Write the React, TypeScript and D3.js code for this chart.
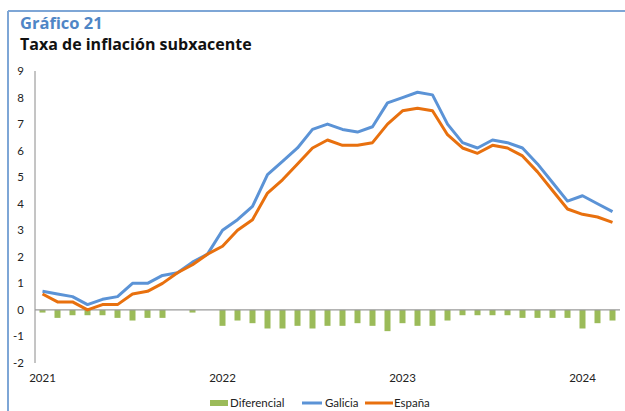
import React from 'react';
import * as d3 from 'd3';

// monthly categories, Jan 2021 .. Mar 2024
const months = [
  '2021-01', '2021-02', '2021-03', '2021-04', '2021-05', '2021-06',
  '2021-07', '2021-08', '2021-09', '2021-10', '2021-11', '2021-12',
  '2022-01', '2022-02', '2022-03', '2022-04', '2022-05', '2022-06',
  '2022-07', '2022-08', '2022-09', '2022-10', '2022-11', '2022-12',
  '2023-01', '2023-02', '2023-03', '2023-04', '2023-05', '2023-06',
  '2023-07', '2023-08', '2023-09', '2023-10', '2023-11', '2023-12',
  '2024-01', '2024-02', '2024-03',
];

const galicia = [
  0.7, 0.6, 0.5, 0.2, 0.4, 0.5, 1.0, 1.0, 1.3, 1.4, 1.8, 2.1,
  3.0, 3.4, 3.9, 5.1, 5.6, 6.1, 6.8, 7.0, 6.8, 6.7, 6.9, 7.8,
  8.0, 8.2, 8.1, 7.0, 6.3, 6.1, 6.4, 6.3, 6.1, 5.5, 4.8, 4.1,
  4.3, 4.0, 3.7,
];

const espana = [
  0.6, 0.3, 0.3, 0.0, 0.2, 0.2, 0.6, 0.7, 1.0, 1.4, 1.7, 2.1,
  2.4, 3.0, 3.4, 4.4, 4.9, 5.5, 6.1, 6.4, 6.2, 6.2, 6.3, 7.0,
  7.5, 7.6, 7.5, 6.6, 6.1, 5.9, 6.2, 6.1, 5.8, 5.2, 4.5, 3.8,
  3.6, 3.5, 3.3,
];

const diferencial = [
  -0.1, -0.3, -0.2, -0.2, -0.2, -0.3, -0.4, -0.3, -0.3, 0.0, -0.1, 0.0,
  -0.6, -0.4, -0.5, -0.7, -0.7, -0.6, -0.7, -0.6, -0.6, -0.5, -0.6, -0.8,
  -0.5, -0.6, -0.6, -0.4, -0.2, -0.2, -0.2, -0.2, -0.3, -0.3, -0.3, -0.3,
  -0.7, -0.5, -0.4,
];

const yearTicks = ['2021', '2022', '2023', '2024'];
const yTicks = [-2, -1, 0, 1, 2, 3, 4, 5, 6, 7, 8, 9];

const W = 625;
const H = 411;
const BLUE = '#5b93d6';
const ORANGE = '#e8700e';
const GREEN = '#9bbb59';
const FONT = 'Lato, "Open Sans", sans-serif';
const TITLE_FONT = '"Open Sans", Lato, sans-serif';

export default function App() {
  const x = d3.scaleBand<string>().domain(months).range([35, 620]);
  const y = d3.scaleLinear().domain([-2, 9]).range([363, 71]);
  const cx = (m: string) => (x(m) ?? 0) + x.bandwidth() / 2;
  const barW = 6;

  const line = d3
    .line<number>()
    .x((_, i) => cx(months[i]))
    .y((d) => y(d));

  return (
    <svg
      width={W}
      height={H}
      style={{ position: 'absolute', left: 0, top: 0, background: '#fff' }}
      fontFamily={FONT}
    >
      {/* frame */}
      <line x1={8} x2={W} y1={11} y2={11} stroke="#7ea6d6" strokeWidth={2} />
      <line x1={8} x2={8} y1={11} y2={H} stroke="#7ea6d6" strokeWidth={2} />

      <text x={20} y={29} fontSize={16.5} fontWeight={700} fill="#4f86c6" fontFamily={TITLE_FONT}>
        Gráfico 21
      </text>
      <text x={20} y={50} fontSize={16} fontWeight={700} fill="#111" fontFamily={TITLE_FONT}>
        Taxa de inflación subxacente
      </text>

      {/* y axis labels */}
      {yTicks.map((t) => (
        <text
          key={t}
          x={24}
          y={y(t)}
          dy="0.35em"
          textAnchor="end"
          fontSize={11.5}
          fill="#222"
        >
          {t}
        </text>
      ))}

      {/* bars */}
      {diferencial.map((d, i) => (
        <rect
          key={months[i]}
          x={cx(months[i]) - barW / 2}
          y={y(Math.max(0, d))}
          width={barW}
          height={Math.abs(y(d) - y(0))}
          fill={GREEN}
        />
      ))}

      {/* axes */}
      <line x1={35} x2={35} y1={y(9)} y2={y(-2)} stroke="#8a8a8a" strokeWidth={1} />
      <line x1={35} x2={620} y1={y(0)} y2={y(0)} stroke="#9a9a9a" strokeWidth={1.2} />

      <path d={line(galicia) ?? ''} fill="none" stroke={BLUE} strokeWidth={3} strokeLinejoin="round" />
      <path d={line(espana) ?? ''} fill="none" stroke={ORANGE} strokeWidth={3} strokeLinejoin="round" />

      {/* x labels */}
      {yearTicks.map((yr) => (
        <text key={yr} x={cx(`${yr}-01`)} y={382} textAnchor="middle" fontSize={11.5} fill="#222">
          {yr}
        </text>
      ))}

      {/* legend */}
      <g fontSize={11.5} fill="#222">
        <rect x={210} y={400} width={18} height={6} fill={GREEN} />
        <text x={230} y={403} dy="0.35em">Diferencial</text>
        <line x1={302} x2={322} y1={403} y2={403} stroke={BLUE} strokeWidth={3} />
        <text x={325} y={403} dy="0.35em">Galicia</text>
        <line x1={365} x2={393} y1={403} y2={403} stroke={ORANGE} strokeWidth={3} />
        <text x={394} y={403} dy="0.35em">España</text>
      </g>
    </svg>
  );
}
